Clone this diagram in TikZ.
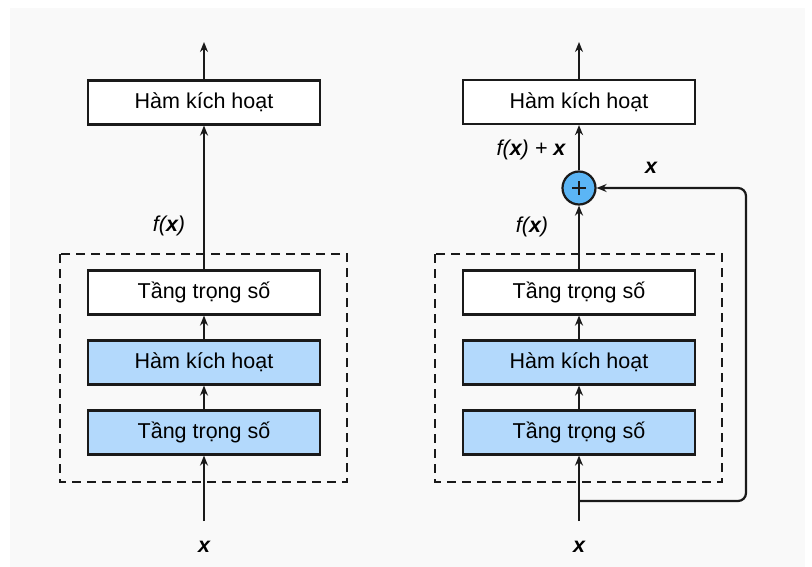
\documentclass[tikz,border=0pt]{standalone}
\usepackage{fontspec}
\setmainfont{Liberation Sans}
\usetikzlibrary{arrows.meta}
\definecolor{bgc}{HTML}{F9F9F9}
\definecolor{lblue}{HTML}{B3D9FC}
\definecolor{cblue}{HTML}{5BB5F5}
\definecolor{dk}{HTML}{1A1A1A}
\begin{document}
\begin{tikzpicture}[x=1pt,y=-1pt,
  layerbox/.style={draw=dk,line width=2.2pt,minimum width=232pt,minimum height=44pt,inner sep=0pt,font=\fontsize{21.5}{24}\selectfont},
  bluebox/.style={layerbox,fill=lblue},
  whitebox/.style={layerbox,fill=white},
  arr/.style={draw=dk,line width=2.2pt,-{Stealth[length=10pt,width=8pt]}},
  dashbox/.style={draw=dk,line width=2.2pt,dash pattern=on 9pt off 6pt},
  lbl/.style={font=\fontsize{21.5}{24}\selectfont\itshape,inner sep=0pt}]
\useasboundingbox (0,0) rectangle (812,567);
\fill[white] (0,0) rectangle (812,567);
\fill[bgc] (10,8) rectangle (805,567);
% left column
\draw[dashbox] (60,254) rectangle (347,482);
\node[whitebox] (Ltop) at (204,102.5) {Hàm kích hoạt};
\node[whitebox] (Lw2) at (204,292.5) {Tầng trọng số};
\node[bluebox] (La) at (204,362.5) {Hàm kích hoạt};
\node[bluebox] (Lw1) at (204,432.5) {Tầng trọng số};
\coordinate (Lout) at (204,42);
\coordinate (Lin) at (204,521);
\draw[arr] (Ltop.north) -- (Lout);
\draw[arr] (Lw2.north) -- (Ltop.south);
\draw[arr] (La.north) -- (Lw2.south);
\draw[arr] (Lw1.north) -- (La.south);
\draw[arr] (Lin) -- (Lw1.south);
\node[lbl] (Lfx) at (169,226) {f(\textbf{x})};
\node[lbl] (Lx) at (204,547) {\textbf{x}};
% right column
\draw[dashbox] (435,254) rectangle (722,482);
\node[whitebox] (Rtop) at (579,102) {Hàm kích hoạt};
\node[whitebox] (Rw2) at (579,292.5) {Tầng trọng số};
\node[bluebox] (Ra) at (579,362.5) {Hàm kích hoạt};
\node[bluebox] (Rw1) at (579,432.5) {Tầng trọng số};
\node[circle,draw=dk,line width=2.2pt,fill=cblue,minimum size=33pt,inner sep=0pt] (plus) at (579,188) {};
\draw[dk,line width=2.2pt] ([xshift=-7pt]plus.center) -- ([xshift=7pt]plus.center) ([yshift=-7pt]plus.center) -- ([yshift=7pt]plus.center);
\coordinate (Rout) at (579,42);
\coordinate (Rin) at (579,521);
\coordinate (Rsplit) at (579,501);
\coordinate (Rcorner1) at (746,501);
\coordinate (Rcorner2) at (746,188);
\draw[arr] (Rtop.north) -- (Rout);
\draw[arr] (plus.north) -- (Rtop.south);
\draw[arr] (Rw2.north) -- (plus.south);
\draw[arr] (Ra.north) -- (Rw2.south);
\draw[arr] (Rw1.north) -- (Ra.south);
\draw[arr] (Rin) -- (Rw1.south);
\draw[arr,rounded corners=8pt] (Rsplit) -- (Rcorner1) -- (Rcorner2) -- (plus.east);
\node[lbl] (Rfx) at (532,227) {f(\textbf{x})};
\node[lbl] (Rfxx) at (531,150) {f(\textbf{x}) + \textbf{x}};
\node[lbl] (Rxs) at (651,168) {\textbf{x}};
\node[lbl] (Rx) at (579,547) {\textbf{x}};
\end{tikzpicture}
\end{document}
